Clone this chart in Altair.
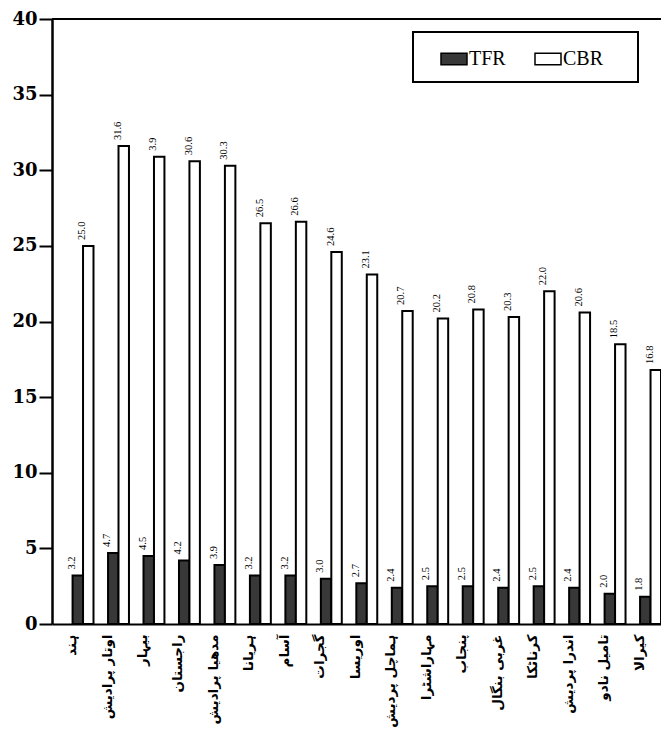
import altair as alt
import pandas as pd

states = ["ہند", "اوتار پرادیش", "بیہار", "راجستان", "مدھیا پرادیش", "ہریانا",
          "آسام", "گجرات", "اوریسا", "ہماچل پردیش", "مہاراشٹرا", "پنجاب",
          "غربی بنگال", "کرناٹکا", "اندرا پردیش", "تامیل نادو", "کیرالا"]
tfr = [3.2, 4.7, 4.5, 4.2, 3.9, 3.2, 3.2, 3.0, 2.7, 2.4, 2.5, 2.5, 2.4, 2.5, 2.4, 2.0, 1.8]
cbr = [25.0, 31.6, 30.9, 30.6, 30.3, 26.5, 26.6, 24.6, 23.1, 20.7, 20.2, 20.8, 20.3, 22.0, 20.6, 18.5, 16.8]
tfr_text = ["3.2", "4.7", "4.5", "4.2", "3.9", "3.2", "3.2", "3.0", "2.7", "2.4", "2.5", "2.5", "2.4", "2.5", "2.4", "2.0", "1.8"]
cbr_text = ["25.0", "31.6", "3.9", "30.6", "30.3", "26.5", "26.6", "24.6", "23.1", "20.7", "20.2", "20.8", "20.3", "22.0", "20.6", "18.5", "16.8"]
series = ["TFR", "CBR"]
y_ticks = [0, 5, 10, 15, 20, 25, 30, 35, 40]

rows = []
for i, s in enumerate(states):
    rows.append({"state": s, "series": "TFR", "value": tfr[i], "label": tfr_text[i]})
    rows.append({"state": s, "series": "CBR", "value": cbr[i], "label": cbr_text[i]})
df = pd.DataFrame(rows)

x = alt.X("state:N", sort=states, title=None,
          scale=alt.Scale(paddingInner=0.41, paddingOuter=0.29, align=1),
          axis=alt.Axis(labelAngle=270, labelFont="DejaVu Sans", labelFontSize=13.5,
                        labelFontWeight="bold", labelColor="black", ticks=False,
                        labelPadding=10, labelOffset=-11, domainColor="black",
                        domainWidth=2, labelLimit=0))
xo = alt.XOffset("series:N", sort=series, scale=alt.Scale(paddingInner=0, paddingOuter=0))
y = alt.Y("value:Q", title=None, scale=alt.Scale(domain=[0, 40], nice=False),
          axis=alt.Axis(values=y_ticks, labelFont="DejaVu Serif", labelFontSize=18,
                        labelFontWeight="bold", labelColor="black", tickColor="black",
                        tickSize=13, tickWidth=2, domainColor="black", domainWidth=2.5,
                        labelPadding=2, grid=False))

bars = alt.Chart(df).mark_bar(stroke="black", strokeWidth=2).encode(
    x=x, xOffset=xo, y=y,
    color=alt.Color("series:N", sort=series,
                    scale=alt.Scale(domain=series, range=["#383838", "#ffffff"]),
                    legend=alt.Legend(title=".", titleOrient="right", titleColor="white",
                                      titleFontSize=10, titlePadding=19,
                                      orient="none", legendX=361, legendY=13,
                                      direction="horizontal", strokeColor="black",
                                      padding=13, symbolOffset=14, columnPadding=14,
                                      labelOffset=1,
                                      labelFont="Liberation Serif", labelFontSize=20,
                                      labelColor="black",
                                      symbolType="M-1,-0.45H1V0.45H-1Z", symbolSize=676,
                                      symbolStrokeColor="black", symbolStrokeWidth=1.5)),
)

texts = alt.Chart(df).mark_text(angle=270, align="left", baseline="middle", dx=6, dy=-6,
                                font="Liberation Serif", fontSize=10.5, color="black").encode(
    x=x, xOffset=xo, y=y, text="label:N")

top = alt.Chart(pd.DataFrame({"value": [40]})).mark_rule(color="black", strokeWidth=2).encode(
    y=alt.Y("value:Q"))

chart = alt.layer(bars, texts, top).properties(
    width=609, height=605,
    autosize=alt.AutoSizeParams(type="none"),
    padding={"left": 44, "top": 11, "right": 0, "bottom": 104},
    background="white",
).configure_view(stroke=None).configure_legend(strokeWidth=2)

chart.save("out.html", embed_options={"renderer": "svg", "actions": False})
